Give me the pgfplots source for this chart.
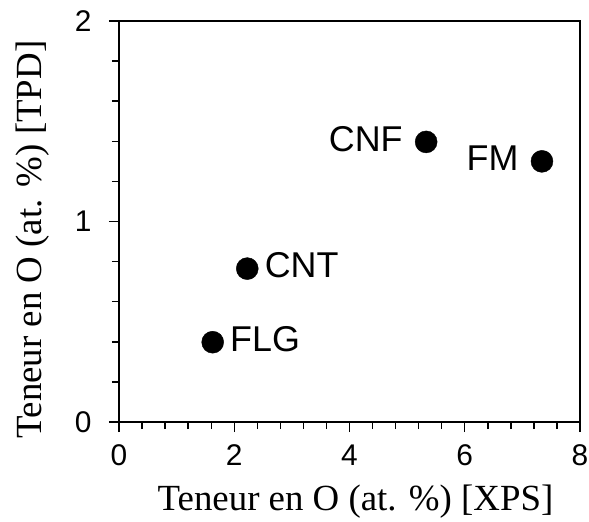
\documentclass[border=0pt]{standalone}
\usepackage{fontspec}
\setmainfont{Liberation Serif}
\newfontfamily\arial{Liberation Sans}
\usepackage{pgfplots}
\pgfplotsset{compat=1.18}
\tikzset{mylab/.style={font=\arial\fontsize{36}{36}\selectfont, black}}

\begin{document}
\begin{tikzpicture}
\begin{axis}[
  name=ax,
  width=461bp, height=401bp, scale only axis,
  xmin=0, xmax=8, ymin=0, ymax=2,
  xtick={0,2,...,8}, ytick={0,1,2},
  minor x tick num=4, minor y tick num=4,
  tick align=outside, xtick pos=bottom, ytick pos=left,
  major tick length=10bp, minor tick length=7bp,
  axis line style={line width=1.6bp},
  every tick/.style={black, line width=1.4bp},
  /pgf/number format/assume math mode=true,
  ticklabel style={font=\arial\fontsize{30}{30}\selectfont},
  xticklabel style={yshift=-9bp},
  yticklabel style={xshift=-14bp},
  xlabel={Teneur en O (at. \%) [XPS]},
  ylabel={Teneur en O (at. \%) [TPD]},
  every axis x label/.style={at={(axis description cs:0.5,0)}, xshift=6bp, yshift=-80bp,
    anchor=center, font=\fontsize{37}{37}\selectfont},
  every axis y label/.style={at={(axis description cs:0,0.5)}, xshift=-86.5bp, yshift=-18bp,
    rotate=90, anchor=center, font=\fontsize{37}{37}\selectfont},
  clip=false,
]
% labels on the right
\addplot[only marks, mark=*, mark size=11bp, black,
  point meta=explicit symbolic, nodes near coords,
  every node near coord/.style={mylab, anchor=west, xshift=14bp, yshift=3bp},
] coordinates {(1.626,0.398) [FLG] (2.226,0.765) [CNT]};
% labels on the left
\addplot[only marks, mark=*, mark size=11bp, black,
  point meta=explicit symbolic, nodes near coords,
  every node near coord/.style={mylab, anchor=east, xshift=-20bp, yshift=3bp},
] coordinates {(5.33,1.397) [CNF] (7.34,1.30) [FM]};
\end{axis}
\pgfresetboundingbox
\path ([xshift=-119bp,yshift=-99.5bp]ax.south west) rectangle ([xshift=9bp,yshift=21bp]ax.north east);
\end{tikzpicture}
\end{document}
